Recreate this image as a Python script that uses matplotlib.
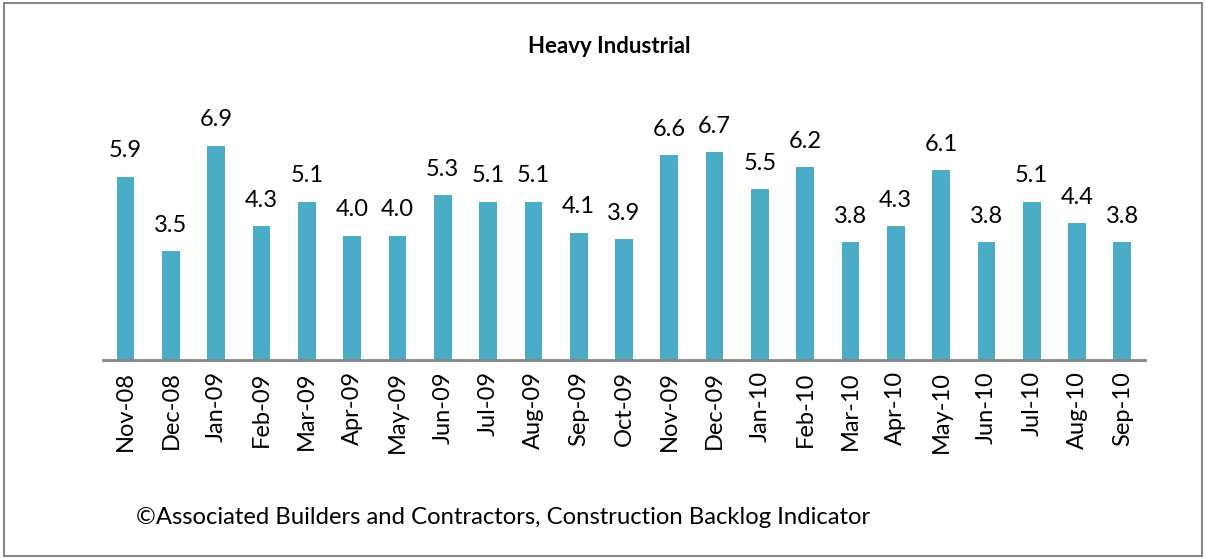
import matplotlib.pyplot as plt
from matplotlib.patches import Rectangle

plt.rcParams['font.family'] = ['Lato', 'DejaVu Sans']

months = ["Nov-08", "Dec-08", "Jan-09", "Feb-09", "Mar-09", "Apr-09", "May-09",
          "Jun-09", "Jul-09", "Aug-09", "Sep-09", "Oct-09", "Nov-09", "Dec-09",
          "Jan-10", "Feb-10", "Mar-10", "Apr-10", "May-10", "Jun-10", "Jul-10",
          "Aug-10", "Sep-10"]
values = [5.9, 3.5, 6.9, 4.3, 5.1, 4.0, 4.0, 5.3, 5.1, 5.1, 4.1, 3.9, 6.6, 6.7,
          5.5, 6.2, 3.8, 4.3, 6.1, 3.8, 5.1, 4.4, 3.8]

fig = plt.figure(figsize=(12.06, 5.58), dpi=100)
ax = fig.add_axes([0.0854, 0.3548, 0.864, 0.4456])

x = range(len(months))
bars = ax.bar(x, values, width=0.39, color="#4BACC6")

for b, v in zip(bars, values):
    ax.annotate(f"{v:.1f}", (b.get_x() + b.get_width() / 2, v),
                xytext=(0, 11), textcoords="offset points",
                ha="center", va="bottom", fontsize=17)

ax.set_xlim(-0.5, len(months) - 0.5)
ax.set_ylim(0, 8)
ax.set_xticks(list(x))
ax.set_xticklabels(months, rotation=90, fontsize=17)
ax.tick_params(axis="x", length=0, pad=8)
ax.set_yticks([])
for s in ["top", "right", "left"]:
    ax.spines[s].set_visible(False)
ax.spines["bottom"].set_color("#868686")
ax.spines["bottom"].set_linewidth(2)

fig.text(0.505, 0.916, "Heavy Industrial", ha="center", va="center",
         fontsize=16, fontweight="bold")
fig.text(0.113, 0.073, "\u00a9Associated Builders and Contractors, Construction Backlog Indicator",
         ha="left", va="center", fontsize=17.2)

fig.patches.append(Rectangle((0.003, 0.004), 0.994, 0.99, transform=fig.transFigure,
                             fill=False, edgecolor="#868686", linewidth=1.5))

fig.savefig("out.png", dpi=100)
